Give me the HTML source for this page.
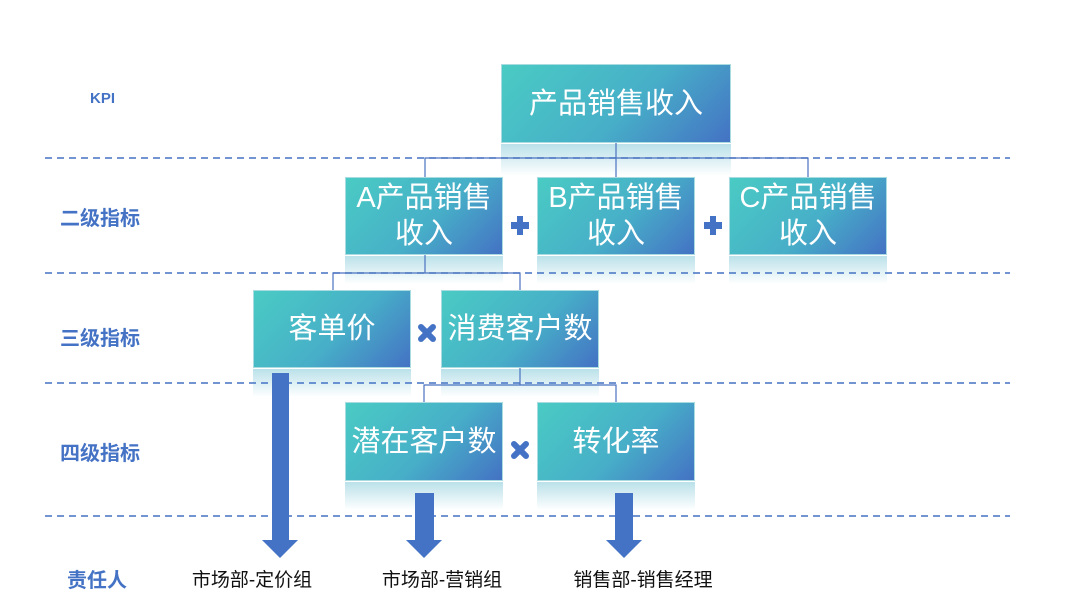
<!DOCTYPE html>
<html><head><meta charset="utf-8"><style>
body{margin:0;width:1080px;height:608px;background:#fff;position:relative;overflow:hidden;font-family:"Liberation Sans","Noto Sans CJK SC",sans-serif}
.b{position:absolute;background:linear-gradient(135deg,#4acbc4 0%,#47afc8 55%,#4472c4 100%);color:#fff;font-size:29px;display:flex;align-items:center;justify-content:center;text-align:center;line-height:36px;border:1px solid #a9dce0;box-sizing:border-box}
.r{position:absolute;background:linear-gradient(180deg,rgba(130,200,215,.55),rgba(255,255,255,0));}
.l{position:absolute;color:#4472c4;font-weight:bold;font-size:20px;white-space:nowrap}
.t{position:absolute;color:#111;font-size:19px;white-space:nowrap;transform:translateX(-50%)}
svg{position:absolute;left:0;top:0}
</style></head><body>
<div class="r" style="left:501px;top:144px;width:230px;height:32px"></div>
<div class="r" style="left:345px;top:256px;width:158px;height:28px"></div>
<div class="r" style="left:537px;top:256px;width:158px;height:28px"></div>
<div class="r" style="left:729px;top:256px;width:158px;height:28px"></div>
<div class="r" style="left:253px;top:369px;width:158px;height:28px"></div>
<div class="r" style="left:441px;top:369px;width:158px;height:28px"></div>
<div class="r" style="left:345px;top:482px;width:158px;height:28px"></div>
<div class="r" style="left:537px;top:482px;width:158px;height:28px"></div>
<svg width="1080" height="608">
<g stroke="#4472c4" stroke-width="1.5" stroke-dasharray="7,5">
<line x1="45" y1="158" x2="1010" y2="158"/><line x1="45" y1="273" x2="1010" y2="273"/>
<line x1="45" y1="383" x2="1010" y2="383"/><line x1="45" y1="516" x2="1010" y2="516"/></g>
<g stroke="#4a72c0" stroke-width="1.2" fill="none">
<line x1="616" y1="143" x2="616" y2="177"/><polyline points="425,177 425,158 808,158 808,177"/>
<line x1="425" y1="255" x2="425" y2="273"/><polyline points="333,290 333,273 520,273 520,290"/>
<line x1="520" y1="368" x2="520" y2="385"/><polyline points="424,402 424,385 616,385 616,402"/>
</g>
<g fill="#4472c4">
<polygon points="272,373 289,373 289,540 298,540 280,558 262,540 272,540"/>
<polygon points="415,493 434,493 434,540 442,540 424,558 406,540 415,540"/>
<polygon points="615,493 633,493 633,540 642,540 624,558 606,540 615,540"/>
<rect x="511" y="222" width="18" height="7"/><rect x="517" y="216" width="6" height="19"/>
<rect x="704" y="222" width="18" height="7"/><rect x="710" y="216" width="6" height="19"/>
</g>
<g stroke="#4472c4" stroke-width="6" stroke-linecap="round">
<line x1="421" y1="327" x2="433" y2="339"/><line x1="433" y1="327" x2="421" y2="339"/>
<line x1="514" y1="444" x2="526" y2="456"/><line x1="526" y1="444" x2="514" y2="456"/>
</g>
</svg>
<div class="b" style="left:501px;top:64px;width:230px;height:79px">产品销售收入</div>
<div class="b" style="left:345px;top:177px;width:158px;height:78px">A产品销售<br>收入</div>
<div class="b" style="left:537px;top:177px;width:158px;height:78px">B产品销售<br>收入</div>
<div class="b" style="left:729px;top:177px;width:158px;height:78px">C产品销售<br>收入</div>
<div class="b" style="left:253px;top:290px;width:158px;height:78px">客单价</div>
<div class="b" style="left:441px;top:290px;width:158px;height:78px">消费客户数</div>
<div class="b" style="left:345px;top:402px;width:158px;height:79px">潜在客户数</div>
<div class="b" style="left:537px;top:402px;width:158px;height:79px">转化率</div>
<div class="l" style="left:90px;top:90px;font-size:15px">KPI</div>
<div class="l" style="left:60px;top:202px">二级指标</div>
<div class="l" style="left:60px;top:322px">三级指标</div>
<div class="l" style="left:60px;top:437px">四级指标</div>
<div class="l" style="left:67px;top:564px">责任人</div>
<div class="t" style="left:252px;top:565px">市场部-定价组</div>
<div class="t" style="left:442px;top:565px">市场部-营销组</div>
<div class="t" style="left:643px;top:565px">销售部-销售经理</div>
</body></html>
